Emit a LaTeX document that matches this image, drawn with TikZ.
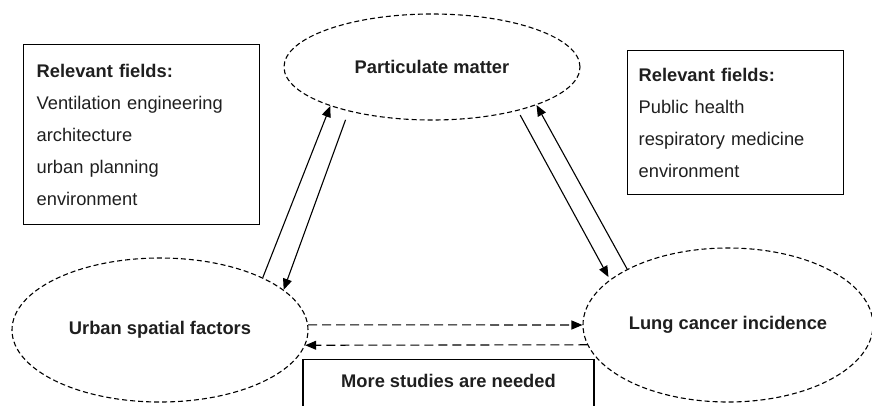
\documentclass[tikz,border=0pt]{standalone}
\usepackage{fontspec}
\setmainfont{Liberation Sans}
\usetikzlibrary{shapes.geometric,arrows.meta}

\begin{document}
\begin{tikzpicture}[x=1pt,y=-1pt,
            txt/.style={text=black!88,font=\fontsize{18.3}{32}\selectfont},
            factor/.style={txt,ellipse,draw,line width=1.1,dash pattern=on 5pt off 3pt,inner sep=0,
            font=\fontsize{18.3}{32}\selectfont\bfseries},
            fieldbox/.style={txt,draw,line width=1.3,anchor=north west,align=left,inner ysep=0},
            link/.style={line width=1.1,-{Triangle[length=11pt,width=9pt]}},
            weaklink/.style={link,dash pattern=on 9pt off 5pt}
            ]
            \def\W{872}  % picture width
            \def\H{405}  % picture height
            \clip[use as bounding box] (0,0) rectangle (\W,\H);

            % the three factors
            \node[factor,minimum width=296pt,minimum height=106pt] (pm) at (432,67) {Particulate matter};
            \node[factor,minimum width=296pt,minimum height=144pt] (usf) at (160,330) {Urban spatial factors};
            \node[factor,minimum width=290pt,minimum height=154pt] (lci) at (728,325) {Lung cancer incidence};

            % relevant fields
            \node[fieldbox,minimum width=236pt,minimum height=180pt,text width=210pt,inner xsep=13pt] (left) at (23,44)
                {\textbf{Relevant fields:}\\Ventilation engineering\\architecture\\urban planning\\environment};
            \node[fieldbox,minimum width=216pt,minimum height=144pt,text width=194pt,inner xsep=11pt] (right) at (627,50)
                {\textbf{Relevant fields:}\\Public health\\respiratory medicine\\environment};
            \node[txt,draw,line width=1.3,anchor=north,minimum width=291pt,inner ysep=15pt,
                text height=13.2pt,text depth=30pt,font=\fontsize{18.3}{32}\selectfont\bfseries] (more) at (448.5,359)
                {More studies are needed};

            % links
            \draw[link] (usf.27) -- (pm.201);
            \draw[link,shorten <=9pt] (pm.208) -- (usf.18);
            \draw[link,shorten <=5pt,shorten >=3pt] (pm.333) -- (lci.159);
            \draw[link] (lci.151) -- (pm.340);
            \draw[weaklink] (usf.2) -- (lci.west);
            \draw[weaklink] (lci.188) -- (usf.-6);
        \end{tikzpicture}
\end{document}
